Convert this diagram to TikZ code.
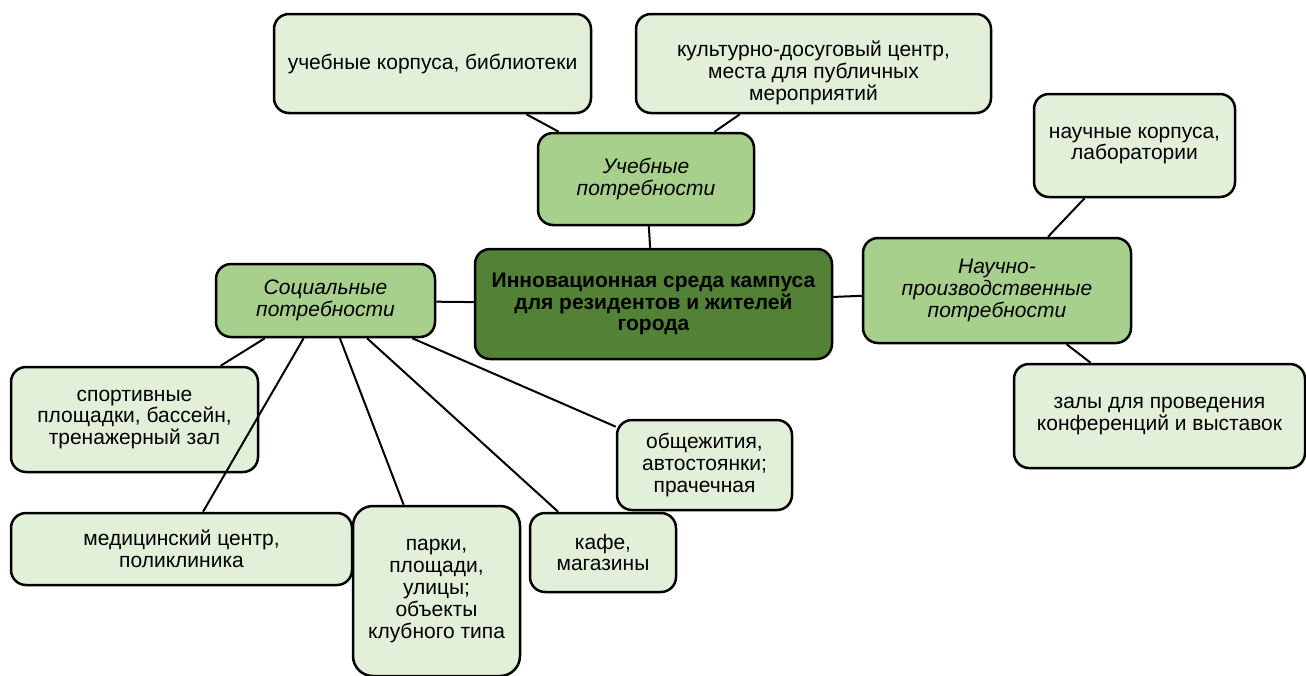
\documentclass[tikz,border=0pt]{standalone}
\usepackage{fontspec}
\setmainfont{Liberation Sans}

\definecolor{leafgreen}{HTML}{E2EFD9}
\definecolor{needgreen}{HTML}{A8D08D}
\definecolor{coregreen}{HTML}{538135}

\begin{document}
\begin{tikzpicture}[
  x=1pt, y=-1pt,
  box/.style={draw, line width=2.5pt, rounded corners=15pt, align=center, inner sep=2pt,
    font=\fontsize{21}{21.8}\selectfont},
  leaf/.style={box, fill=leafgreen},
  need/.style={box, fill=needgreen, font=\fontsize{21}{21.8}\selectfont\itshape},
  core/.style={box, fill=coregreen, font=\fontsize{21}{21.8}\selectfont\bfseries},
  link/.style={line width=2pt}
]
  \clip (0,0) rectangle (1306,675);

  % centre and the three groups of needs
  \node[core, minimum width=357pt, minimum height=110pt] (campus) at (653.5,304) {Инновационная среда кампуса\\для резидентов и жителей\\города};
  \node[need, minimum width=216pt, minimum height=92pt] (study) at (646,179) {Учебные\\потребности};
  \node[need, minimum width=219pt, minimum height=73pt] (social) at (325.5,300.5) {Социальные\\потребности};
  \node[need, minimum width=268pt, minimum height=105pt] (science) at (997,290.5) {Научно-\\производственные\\потребности};

  % study
  \node[leaf, minimum width=317pt, minimum height=99pt] (learnbld) at (432.5,63.5) {учебные корпуса, библиотеки};
  \node[leaf, minimum width=355pt, minimum height=99pt] (culture) at (813.5,63.5) {\rule{0pt}{34pt}культурно-досуговый центр,\\места для публичных\\мероприятий};

  % science
  \node[leaf, minimum width=201pt, minimum height=103pt] (labs) at (1134.5,145.5) {научные корпуса,\\лаборатории};
  \node[leaf, minimum width=291pt, minimum height=104pt] (halls) at (1159.5,416) {залы для проведения\\конференций и выставок};

  % social
  \node[leaf, minimum width=247pt, minimum height=105pt] (sport) at (134.5,419.5) {спортивные\\площадки, бассейн,\\тренажерный зал};
  \node[leaf, minimum width=341pt, minimum height=72pt] (clinic) at (181.5,549) {медицинский центр,\\поликлиника};
  \node[leaf, minimum width=167pt, minimum height=170pt, rounded corners=20pt] (parks) at (436.5,591) {парки,\\площади,\\улицы;\\объекты\\клубного типа};
  \node[leaf, minimum width=146pt, minimum height=79pt] (cafe) at (603,552.5) {кафе,\\магазины};
  \node[leaf, minimum width=175pt, minimum height=90pt] (dorms) at (704.5,465) {общежития,\\автостоянки;\\прачечная};

  \draw[link] (learnbld) -- (study);
  \draw[link] (culture) -- (study);
  \draw[link] (study) -- (campus);
  \draw[link] (social) -- (campus);
  \draw[link] (campus) -- (science);
  \draw[link] (science) -- (labs);
  \draw[link] (science) -- (halls);
  \foreach \place in {sport, clinic, parks, cafe, dorms}
    \draw[link] (social) -- (\place);
\end{tikzpicture}
\end{document}
